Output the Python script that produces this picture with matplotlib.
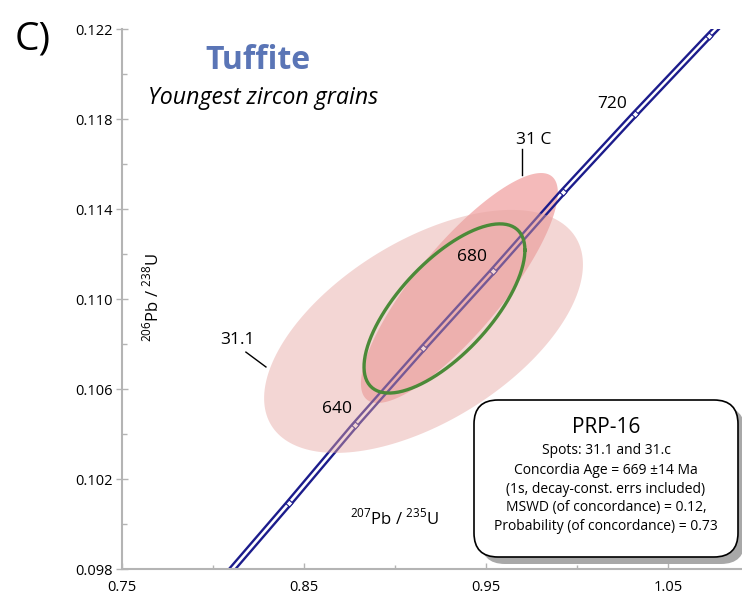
import numpy as np
import matplotlib
matplotlib.use('Agg')
import matplotlib.pyplot as plt
from matplotlib.patches import FancyBboxPatch
from matplotlib.transforms import IdentityTransform

plt.rcParams['font.family'] = ['Open Sans', 'DejaVu Sans']
plt.rcParams['mathtext.fontset'] = 'custom'
plt.rcParams['mathtext.rm'] = 'Open Sans'

#%% Concordia curve, age marks every 20 Ma
conc_age = [600, 620, 640, 660, 680, 700, 720, 740, 760]
conc_x = [0.8057, 0.8418, 0.8780, 0.9154, 0.9538, 0.9923, 1.0319, 1.0725, 1.1137]
conc_y = [0.09754, 0.10093, 0.10440, 0.10782, 0.11124, 0.11476, 0.11822, 0.12169, 0.12513]
band_half = 0.0018  # decay-constant error band half width (207/235)

#%% Error ellipses: centre, half extents, correlation
spot_names = ['31.1', '31 C']
spot_x = [0.9157, 0.9354]
spot_y = [0.10856, 0.11049]
spot_dx = [0.0876, 0.0541]
spot_dy = [0.00540, 0.00511]
spot_rho = [0.55, 0.83]

age_x, age_y = 0.9272, 0.10958
age_dx, age_dy, age_rho = 0.0442, 0.00376, 0.69

#%% Axis ticks
xticks = [0.75, 0.85, 0.95, 1.05]
xminor = [0.80, 0.90, 1.00]
yticks = [0.098, 0.102, 0.106, 0.110, 0.114, 0.118, 0.122]
yminor = [0.100, 0.104, 0.108, 0.112, 0.116, 0.120]

box_lines = ['Spots: 31.1 and 31.c',
             'Concordia Age = 669 \u00b114 Ma',
             '(1s, decay-const. errs included)',
             'MSWD (of concordance) = 0.12,',
             'Probability (of concordance) = 0.73']


def ellipse(cx, cy, dx, dy, rho, n=200):
    t = np.linspace(0, 2*np.pi, n)
    ex = cx + dx*np.cos(t)
    ey = cy + dy*(rho*np.cos(t) + np.sqrt(1-rho**2)*np.sin(t))
    return ex, ey


fig = plt.figure(figsize=(7.42, 5.96), dpi=100)
ax = fig.add_axes([0.1644, 0.0453, 0.8356, 0.906])

# 31 C ellipse sits under the concordia
ex, ey = ellipse(spot_x[1], spot_y[1], spot_dx[1], spot_dy[1], spot_rho[1])
ax.fill(ex, ey, color='#f4baba', lw=0, zorder=1)

navy = '#1c1c8c'
cx = np.array(conc_x)
cy = np.array(conc_y)
ax.plot(cx - band_half, cy, color=navy, lw=1.7, zorder=2, solid_capstyle='butt')
ax.plot(cx + band_half, cy, color=navy, lw=1.7, zorder=2, solid_capstyle='butt')
ax.plot(cx[1:-1], cy[1:-1], ls='none', marker=(4, 0, 3), ms=5,
        mfc='white', mec=navy, mew=0.8, zorder=3)

# 31.1 ellipse, transparent on top
ex, ey = ellipse(spot_x[0], spot_y[0], spot_dx[0], spot_dy[0], spot_rho[0])
ax.fill(ex, ey, color='#e6a4a0', alpha=0.45, lw=0, zorder=4)

# concordia age ellipse
ex, ey = ellipse(age_x, age_y, age_dx, age_dy, age_rho)
ax.plot(ex, ey, color='#4b8a38', lw=2.4, zorder=5)

# age labels along the curve
ax.text(0.8681, 0.10511, '640', fontsize=12.5, ha='center', va='center', zorder=6)
ax.text(0.9423, 0.11187, '680', fontsize=12.5, ha='center', va='center', zorder=6)
ax.text(1.0192, 0.11867, '720', fontsize=12.5, ha='center', va='center', zorder=6)

# spot labels with leaders
ax.text(0.97637, 0.11707, spot_names[1], fontsize=12.5, ha='center', va='center', zorder=6)
ax.plot([0.9698, 0.9698], [0.11667, 0.11551], color='black', lw=1, zorder=6)
ax.text(0.8132, 0.10818, spot_names[0], fontsize=12.5, ha='center', va='center', zorder=6)
ax.plot([0.8181, 0.8291], [0.10764, 0.10698], color='black', lw=1, zorder=6)

ax.text(0.4387, 0.0944, r'$^{207}$Pb / $^{235}$U', fontsize=12,
        ha='center', va='center', transform=ax.transAxes)
ax.text(0.0484, 0.5019, r'$^{206}$Pb / $^{238}$U', fontsize=12, rotation=90,
        ha='center', va='center', transform=ax.transAxes)

ax.set_xlim(0.75, 1.0907)
ax.set_ylim(0.098, 0.122)
ax.set_xticks(xticks)
ax.set_xticklabels(['0.75', '0.85', '0.95', '1.05'])
ax.set_xticks(xminor, minor=True)
ax.set_yticks(yticks)
ax.set_yticklabels(['%.3f' % v for v in yticks])
ax.set_yticks(yminor, minor=True)

gray = '#b4b4b4'
for s in ['top', 'right']:
    ax.spines[s].set_visible(False)
for s in ['left', 'bottom']:
    ax.spines[s].set_color(gray)
    ax.spines[s].set_linewidth(1.5)
ax.tick_params(axis='x', which='major', direction='in', length=4.5, width=1,
               color=gray, labelsize=10.5, pad=8)
ax.tick_params(axis='x', which='minor', direction='in', length=3, width=1, color=gray)
ax.tick_params(axis='y', which='major', direction='inout', length=8, width=1,
               color=gray, labelsize=10.5, pad=3)
ax.tick_params(axis='y', which='minor', direction='in', length=3.5, width=1, color=gray)

# headings
fig.text(0.0202, 0.933, 'C)', fontsize=28, ha='left', va='center')
fig.text(0.3477, 0.8977, 'Tuffite', fontsize=23, fontweight='bold',
         color='#5a75b6', ha='center', va='center')
fig.text(0.3544, 0.8356, 'Youngest zircon grains', fontsize=16.7,
         style='italic', ha='center', va='center')

# result box with drop shadow (pixel units)
shadow = FancyBboxPatch((481, 32), 264, 157, boxstyle='round,pad=0,rounding_size=24',
                        transform=IdentityTransform(), fc='#a8a8a8', ec='none', zorder=8)
box = FancyBboxPatch((474, 39), 264, 157, boxstyle='round,pad=0,rounding_size=24',
                     transform=IdentityTransform(), fc='white', ec='black', lw=1.2, zorder=9)
fig.add_artist(shadow)
fig.add_artist(box)
fig.text(0.8167, 0.2819, 'PRP-16', fontsize=15, ha='center', va='center', zorder=10)
line_y = [0.2433, 0.2114, 0.1779, 0.1477, 0.1158]
for txt, yy in zip(box_lines, line_y):
    fig.text(0.8167, yy, txt, fontsize=10, ha='center', va='center', zorder=10)

fig.savefig('out.png', dpi=100)
